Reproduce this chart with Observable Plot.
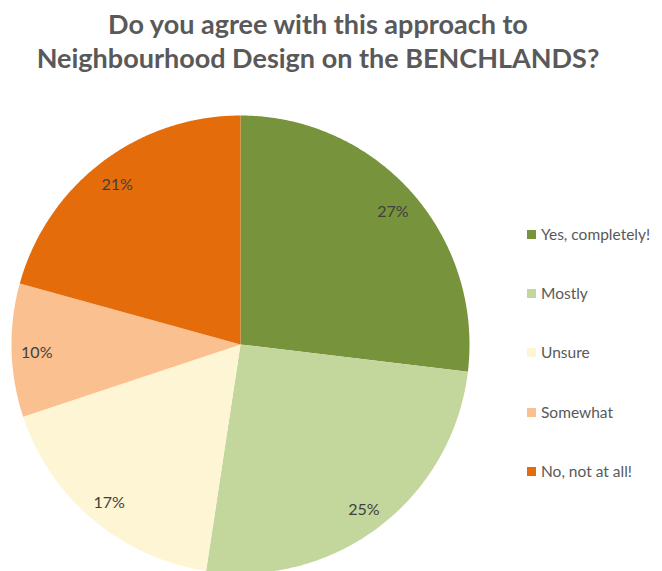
<!DOCTYPE html>
<html>
<head>
<meta charset="utf-8">
<script src="https://cdn.jsdelivr.net/npm/d3@7"></script>
<script src="https://cdn.jsdelivr.net/npm/@observablehq/plot@0.6"></script>
<style>
  html, body { margin: 0; padding: 0; background: #fff; }
  #wrap { position: relative; width: 662px; height: 571px; overflow: hidden; font-family: Lato, "Open Sans", sans-serif; }
  #title { position: absolute; left: 0; top: 7px; width: 636px; text-align: center; font-weight: 700; font-size: 27px; line-height: 34px; color: #595959; }
  #chart { position: absolute; left: 0; top: 90px; }
  #legend { position: absolute; left: 527px; top: 0; }
  .item { position: absolute; left: 0; white-space: nowrap; font-size: 15.5px; color: #595959; display: flex; align-items: center; height: 18px; }
  .sw { width: 9px; height: 9px; margin-right: 5px; flex: none; }
</style>
</head>
<body>
<div id="wrap">
  <div id="title">Do you agree with this approach to<br>Neighbourhood Design on the BENCHLANDS?</div>
  <div id="chart"></div>
  <div id="legend"></div>
</div>
<script>
const categories = ["Yes, completely!", "Mostly", "Unsure", "Somewhat", "No, not at all!"];
const shares = [26.9, 25.5, 17.5, 9.4, 20.7];
const labels = ["27%", "25%", "17%", "10%", "21%"];
const colors = ["#77933C", "#C3D69B", "#FDF5D3", "#FAC090", "#E46C0A"];

const data = categories.map((c, i) => ({cat: c, share: shares[i], label: labels[i]}));
const arcs = d3.pie().sort(null).value(d => d.share)(data);

// unit-circle geometry (y down): angle measured clockwise from 12 o'clock
const pt = (a, r = 1) => [r * Math.sin(a), -r * Math.cos(a)];
const features = arcs.map(a => {
  const ring = [[0, 0]];
  const n = Math.max(2, Math.ceil((a.endAngle - a.startAngle) / (Math.PI / 360)));
  for (let k = 0; k <= n; k++) ring.push(pt(a.startAngle + (a.endAngle - a.startAngle) * k / n));
  ring.push([0, 0]);
  return {type: "Feature", properties: {cat: a.data.cat}, geometry: {type: "Polygon", coordinates: [ring]}};
});
const labelPos = arcs.map(a => {
  const [x, y] = pt((a.startAngle + a.endAngle) / 2, 0.89);
  return {x, y, label: a.data.label};
});

const plot = Plot.plot({
  width: 662,
  height: 483,
  marginLeft: 11,
  marginRight: 193,
  marginTop: 25,
  marginBottom: 0,
  projection: {type: "identity", domain: {type: "MultiPoint", coordinates: [[-1, -1], [1, 1]]}},
  color: {domain: categories, range: colors},
  marks: [
    Plot.geo(features, {fill: d => d.properties.cat, stroke: "none"}),
    Plot.text(labelPos, {x: "x", y: "y", text: "label", dy: 3, fill: "#404040", fontSize: 16, fontFamily: "Lato, sans-serif"})
  ]
});
document.getElementById("chart").appendChild(plot);

const legendY = [234, 293, 352, 412, 471];
const legend = d3.select("#legend");
categories.forEach((c, i) => {
  const it = legend.append("div").attr("class", "item").style("top", (legendY[i] - 9) + "px");
  it.append("div").attr("class", "sw").style("background", colors[i]);
  it.append("span").text(c);
});
</script>
</body>
</html>
